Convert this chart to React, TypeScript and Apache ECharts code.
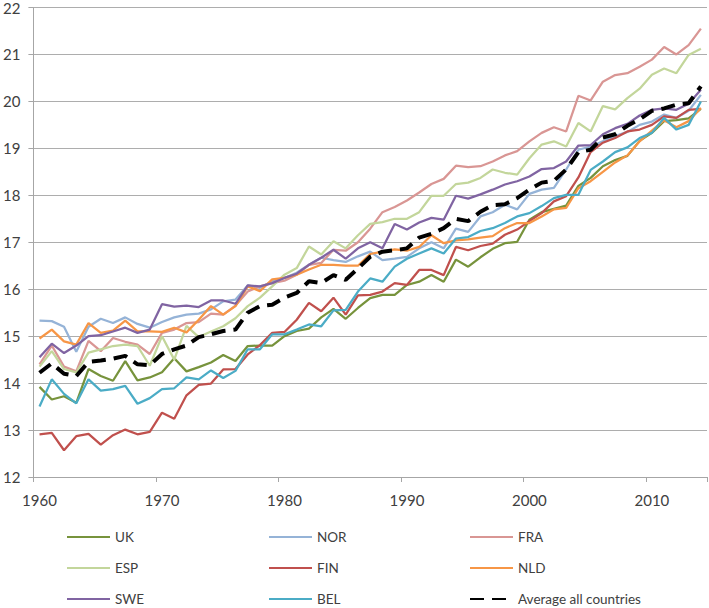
import React, { useEffect, useRef } from "react";
import * as echarts from "echarts";

const years = [
  "1960","1961","1962","1963","1964","1965","1966","1967","1968","1969",
  "1970","1971","1972","1973","1974","1975","1976","1977","1978","1979",
  "1980","1981","1982","1983","1984","1985","1986","1987","1988","1989",
  "1990","1991","1992","1993","1994","1995","1996","1997","1998","1999",
  "2000","2001","2002","2003","2004","2005","2006","2007","2008","2009",
  "2010","2011","2012","2013","2014",
];

const UK = [
  13.92, 13.65, 13.72, 13.58, 14.3, 14.15, 14.05, 14.47, 14.06, 14.12,
  14.23, 14.53, 14.25, 14.34, 14.44, 14.6, 14.47, 14.79, 14.8, 14.8,
  15.0, 15.11, 15.16, 15.4, 15.58, 15.37, 15.6, 15.81, 15.88, 15.88,
  16.09, 16.16, 16.3, 16.16, 16.63, 16.48, 16.68, 16.86, 16.98, 17.01,
  17.48, 17.64, 17.71, 17.78, 18.2, 18.37, 18.62, 18.75, 18.84, 19.16,
  19.33, 19.58, 19.6, 19.64, 19.84,
];
const NOR = [
  15.33, 15.32, 15.2, 14.67, 15.2, 15.37, 15.28, 15.4, 15.26, 15.18,
  15.3, 15.4, 15.46, 15.48, 15.57, 15.74, 15.78, 16.08, 16.03, 16.17,
  16.24, 16.35, 16.52, 16.67, 16.62, 16.58, 16.7, 16.8, 16.62, 16.65,
  16.69, 16.87, 17.0, 16.87, 17.29, 17.22, 17.55, 17.64, 17.8, 17.7,
  18.03, 18.12, 18.16, 18.55, 18.97, 19.04, 19.15, 19.26, 19.35, 19.5,
  19.57, 19.72, 19.65, 19.8, 20.14,
];
const FRA = [
  14.4, 14.8, 14.35, 14.25, 14.9, 14.68, 14.96, 14.88, 14.82, 14.62,
  15.07, 15.14, 15.28, 15.3, 15.48, 15.46, 15.65, 15.95, 16.06, 16.13,
  16.18, 16.31, 16.52, 16.56, 16.84, 16.82, 17.0, 17.29, 17.64, 17.75,
  17.89, 18.06, 18.24, 18.35, 18.63, 18.6, 18.62, 18.72, 18.85, 18.94,
  19.15, 19.33, 19.45, 19.36, 20.12, 20.02, 20.42, 20.56, 20.6, 20.74,
  20.89, 21.16, 21.0, 21.2, 21.55,
];
const ESP = [
  14.35, 14.68, 14.3, 14.23, 14.65, 14.72, 14.79, 14.82, 14.79, 14.37,
  15.0, 14.5, 15.22, 14.98, 15.1, 15.21, 15.38, 15.64, 15.82, 16.06,
  16.31, 16.45, 16.91, 16.74, 17.02, 16.87, 17.15, 17.39, 17.43, 17.5,
  17.5, 17.64, 17.99, 17.99, 18.24, 18.27, 18.37, 18.55, 18.48, 18.44,
  18.79, 19.08, 19.15, 19.04, 19.54, 19.36, 19.9, 19.83, 20.07, 20.27,
  20.57, 20.7, 20.6, 20.99, 21.12,
];
const FIN = [
  12.91, 12.94, 12.57, 12.87, 12.92, 12.69, 12.89, 13.01, 12.91, 12.96,
  13.37, 13.24, 13.74, 13.96, 13.99, 14.29, 14.3, 14.61, 14.81, 15.07,
  15.09, 15.35, 15.71, 15.53, 15.82, 15.46, 15.87, 15.88, 15.95, 16.13,
  16.09, 16.41, 16.41, 16.3, 16.9, 16.83, 16.92, 16.97, 17.16, 17.27,
  17.45, 17.62, 17.87, 17.98, 18.38, 18.92, 19.12, 19.22, 19.36, 19.4,
  19.5, 19.68, 19.65, 19.82, 19.84,
];
const NLD = [
  14.95, 15.14, 14.89, 14.82, 15.28, 15.07, 15.12, 15.33, 15.1, 15.1,
  15.09, 15.18, 15.08, 15.35, 15.64, 15.46, 15.64, 16.06, 15.96, 16.21,
  16.24, 16.31, 16.42, 16.52, 16.52, 16.5, 16.5, 16.75, 16.8, 16.85,
  16.82, 16.9, 17.15, 16.98, 17.04, 17.06, 17.1, 17.13, 17.3, 17.41,
  17.41, 17.55, 17.7, 17.73, 18.15, 18.3, 18.5, 18.7, 18.85, 19.15,
  19.38, 19.6, 19.45, 19.58, 19.86,
];
const SWE = [
  14.55, 14.84, 14.64, 14.8, 15.0, 15.02, 15.1, 15.18, 15.07, 15.14,
  15.68, 15.63, 15.65, 15.62, 15.76, 15.76, 15.69, 16.08, 16.06, 16.13,
  16.24, 16.33, 16.52, 16.67, 16.84, 16.65, 16.87, 17.0, 16.87, 17.39,
  17.27, 17.42, 17.52, 17.48, 17.99, 17.93, 18.02, 18.12, 18.23, 18.3,
  18.4, 18.56, 18.58, 18.72, 19.06, 19.07, 19.3, 19.43, 19.52, 19.7,
  19.82, 19.85, 19.82, 19.95, 20.25,
];
const BEL = [
  13.5, 14.08, 13.77, 13.57, 14.08, 13.84, 13.87, 13.94, 13.56, 13.68,
  13.87, 13.89, 14.12, 14.08, 14.27, 14.11, 14.26, 14.72, 14.72, 15.04,
  15.04, 15.14, 15.25, 15.21, 15.55, 15.56, 15.95, 16.23, 16.16, 16.48,
  16.65, 16.76, 16.87, 16.76, 17.08, 17.11, 17.24, 17.3, 17.41, 17.55,
  17.62, 17.77, 17.94, 18.01, 18.01, 18.54, 18.72, 18.92, 19.02, 19.22,
  19.33, 19.65, 19.4, 19.5, 20.0,
];
const AVG = [
  14.22, 14.42, 14.2, 14.15, 14.45, 14.48, 14.52, 14.58, 14.4, 14.38,
  14.62, 14.72, 14.8, 14.98, 15.04, 15.11, 15.14, 15.5, 15.64, 15.67,
  15.82, 15.92, 16.17, 16.13, 16.3, 16.2, 16.44, 16.69, 16.8, 16.83,
  16.87, 17.1, 17.18, 17.3, 17.5, 17.45, 17.65, 17.79, 17.81, 17.94,
  18.12, 18.27, 18.31, 18.55, 18.92, 18.97, 19.23, 19.3, 19.48, 19.62,
  19.8, 19.85, 19.93, 19.96, 20.32,
];

const seriesNames = ["UK", "NOR", "FRA", "ESP", "FIN", "NLD", "SWE", "BEL", "Average all countries"];
const seriesValues = [UK, NOR, FRA, ESP, FIN, NLD, SWE, BEL, AVG];
const seriesColors = ["#77933C", "#95B3D7", "#D99694", "#C3D69B", "#C0504D", "#F79646", "#8064A2", "#4BACC6", "#000000"];

// legend grid: 3 columns x 3 rows, reading left-to-right
const legendOrder = ["UK", "NOR", "FRA", "ESP", "FIN", "NLD", "SWE", "BEL", "Average all countries"];
const legendLefts = [66, 268, 469];
const legendRowCenters = [537, 568, 599];

const FONT = "Lato";
const TEXT = "#404040";

export default function App() {
  const ref = useRef<HTMLDivElement>(null);
  useEffect(() => {
    if (!ref.current) return;
    const chart = echarts.init(ref.current, null, { renderer: "svg" });
    const series = seriesNames.map((name, i) => {
      const isAvg = i === 8;
      return {
        name,
        type: "line",
        data: seriesValues[i],
        symbol: "none",
        showSymbol: false,
        smooth: false,
        color: seriesColors[i],
        lineStyle: isAvg
          ? { color: "#000", width: 4, type: [14, 8], cap: "butt" }
          : { color: seriesColors[i], width: 2.25 },
        z: 2 + i,
      };
    });
    const legends = legendOrder.map((name, k) => ({
      data: [name],
      orient: "horizontal",
      left: legendLefts[k % 3],
      top: legendRowCenters[Math.floor(k / 3)] - 7,
      padding: 0,
      itemWidth: 43,
      itemHeight: 14,
      itemGap: 0,
      selectedMode: false,
      itemStyle: { opacity: 0 },
      textStyle: { color: TEXT, fontSize: 13.5, lineHeight: 14, fontFamily: FONT, padding: [0, 0, 0, 0] },
    }));
    chart.setOption({
      animation: false,
      backgroundColor: "#ffffff",
      textStyle: { fontFamily: FONT },
      grid: { left: 32, right: 2, top: 5, bottom: 131, containLabel: false },
      xAxis: {
        type: "category",
        data: years,
        boundaryGap: true,
        axisLine: { show: true, lineStyle: { color: "#A6A6A6", width: 1 } },
        axisTick: { show: true, interval: 9, length: 5, alignWithLabel: false, lineStyle: { color: "#A6A6A6" } },
        axisLabel: { interval: 9, color: TEXT, fontSize: 15, fontFamily: FONT, margin: 15 },
        splitLine: { show: false },
      },
      yAxis: {
        type: "value",
        min: 12,
        max: 22,
        interval: 1,
        axisLine: { show: true, lineStyle: { color: "#A6A6A6", width: 1 } },
        axisTick: { show: true, length: 5, lineStyle: { color: "#A6A6A6" } },
        axisLabel: { color: TEXT, fontSize: 15, fontFamily: FONT, margin: 13 },
        splitLine: { show: true, lineStyle: { color: "#ADADAD", width: 1 } },
      },
      legend: legends,
      series,
    });
    return () => chart.dispose();
  }, []);
  return (
    <div
      ref={ref}
      style={{ position: "fixed", left: 0, top: 0, width: 709, height: 608 }}
    />
  );
}
